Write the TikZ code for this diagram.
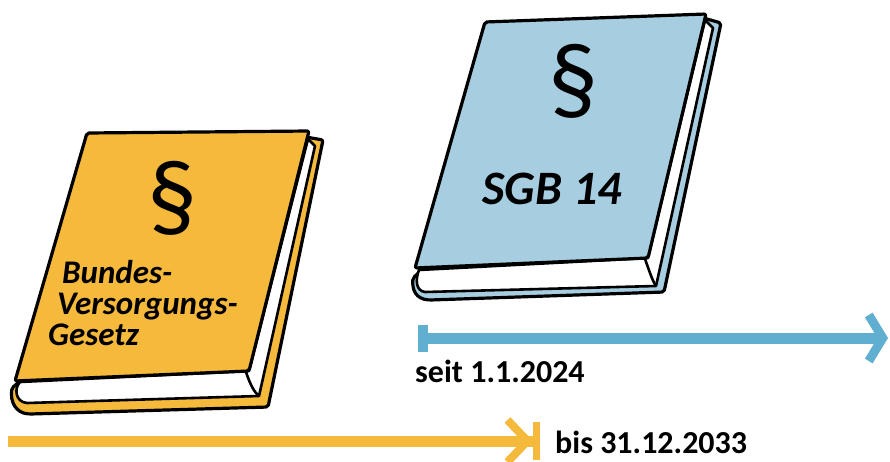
\documentclass[tikz,border=0pt]{standalone}
\usepackage{fontspec}
\setmainfont{Carlito}
\usetikzlibrary{arrows.meta}
\definecolor{gesetzgelb}{RGB}{245,185,60}
\definecolor{sgbblau}{RGB}{166,206,224}
\definecolor{zeitblau}{RGB}{96,174,208}

\begin{document}
\begin{tikzpicture}[
x=1pt, y=-1pt,
font=\bfseries,
cover/.style={draw=black, line width=3.2pt, line join=round, rounded corners=2pt},
pages/.style={draw=black, line width=2.6pt, fill=white, line join=round},
timeline/.style={line width=11pt},
covertext/.style={font=\bfseries\itshape\fontsize{33}{36}\selectfont, anchor=base west, inner sep=0pt},
para/.style={font=\fontsize{100}{100}\selectfont, inner sep=0pt},
datum/.style={font=\bfseries\fontsize{32}{34}\selectfont, anchor=base west, inner sep=0pt}
]
    \useasboundingbox (0,0) rectangle (890,461);

    % Bundesversorgungsgesetz (yellow book)
    \draw[cover, fill=gesetzgelb] (300,136) -- (323,140) -- (268,407) -- (30,414)
        .. controls (16,413) and (10,402) .. (12,388) -- cycle;
    \draw[pages] (308,139) -- (315,146) -- (259,396) -- (27,403)
        .. controls (15,402) and (14,388) .. (20,382) -- (249,371) -- cycle;
    \draw[pages, fill=none] (246,372) .. controls (250,384) and (254,392) .. (259,396);
    \draw[cover, fill=gesetzgelb] (87,133) -- (309,131) -- (249,371) -- (15,381) -- cycle;

    \node[para] (bvgPara) at (172,198) {§};
    \node[covertext] (bvgZeile1) at (62,283) {Bundes-};
    \node[covertext] (bvgZeile2) at (57,314) {Versorgungs-};
    \node[covertext] (bvgZeile3) at (48,345) {Gesetz};

    % SGB 14 (blue book)
    \draw[cover, fill=sgbblau] (700,17) -- (721,23) -- (664,292) -- (430,300)
        .. controls (416,299) and (412,290) .. (413,278) -- cycle;
    \draw[pages] (705,20) -- (713,28) -- (656,286) -- (425,292)
        .. controls (416,291) and (415,280) .. (419,270) -- (648,258) -- cycle;
    \draw[pages, fill=none] (645,259) .. controls (649,270) and (652,280) .. (656,286);
    \draw[cover, fill=sgbblau] (485,22) -- (706,14) -- (648,258) -- (415,268) -- cycle;

    \node[para] (sgbPara) at (573,81) {§};
    \node[font=\bfseries\itshape\fontsize{48}{50}\selectfont, inner sep=0pt, anchor=base]
        (sgbTitel) at (552,204) {SGB 14};

    % time lines
    \coordinate (seitStart) at (418,338);
    \coordinate (seitEnde) at (888,338);
    \coordinate (bisStart) at (8,441);
    \coordinate (bisEnde) at (540,441);

    \draw[timeline, zeitblau,
        {Bar[width=27pt,line width=10pt]}-{Straight Barb[length=14pt,width=46pt,line width=9pt]}]
        (seitStart) -- (seitEnde);
    \draw[timeline, gesetzgelb,
        -{Straight Barb[length=20pt,width=42pt,line width=8pt] Bar[width=38pt,line width=7pt]}]
        (bisStart) -- (bisEnde);

    \node[datum] (seitText) at (415,382) {seit 1.1.2024};
    \node[datum] (bisText) at (555,453) {bis 31.12.2033};
\end{tikzpicture}
\end{document}
